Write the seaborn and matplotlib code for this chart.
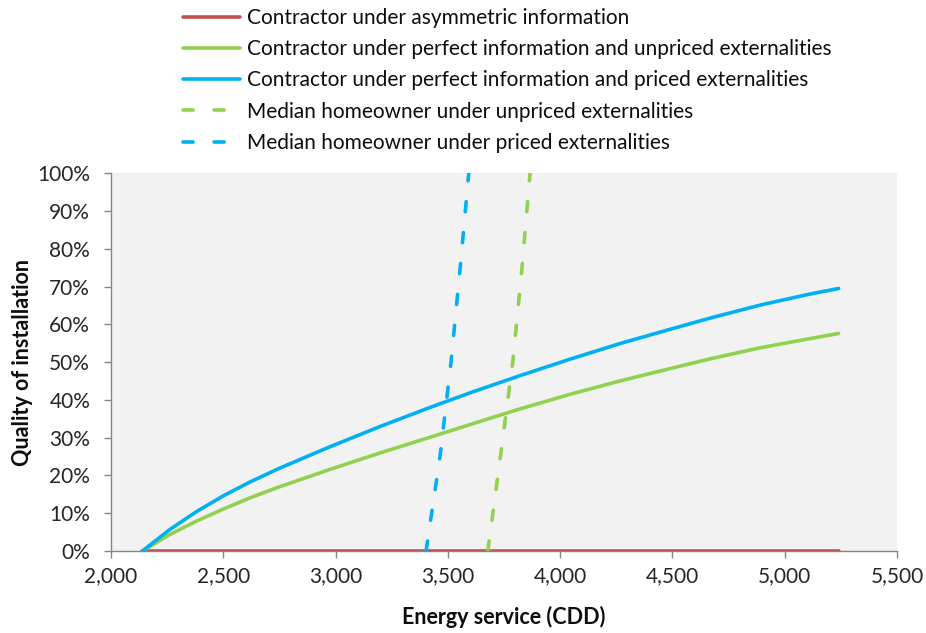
import matplotlib
matplotlib.use("Agg")
import matplotlib.pyplot as plt
import seaborn as sns
from matplotlib.ticker import PercentFormatter, FuncFormatter, MultipleLocator

# ---- data ----
contractor_x = [2140, 2260, 2380, 2500, 2620, 2750, 2975, 3200, 3420,
                3600, 3820, 4045, 4265, 4490, 4670, 4890, 5110, 5240]
asym_q = [0] * len(contractor_x)
perfect_unpriced_q = [0, 4.3, 7.9, 11.1, 14.1, 17.0, 21.6, 26.0, 30.1,
                      33.5, 37.6, 41.5, 45.0, 48.3, 50.9, 53.8, 56.2, 57.6]
perfect_priced_q = [0, 5.6, 10.4, 14.6, 18.3, 21.9, 27.6, 33.0, 38.0,
                    41.9, 46.4, 50.8, 54.9, 58.7, 61.7, 65.1, 68.0, 69.5]

homeowner_q = [0, 25, 50, 75, 100]
homeowner_unpriced_x = [3678, 3734, 3789, 3830, 3866]
homeowner_priced_x = [3403, 3465, 3514, 3555, 3593]

labels = [
    "Contractor under asymmetric information",
    "Contractor under perfect information and unpriced externalities",
    "Contractor under perfect information and priced externalities",
    "Median homeowner under unpriced externalities",
    "Median homeowner under priced externalities",
]
RED, GREEN, BLUE = "#C0504D", "#92D050", "#00B0F0"

sns.set_theme(style="white")
plt.rcParams["font.family"] = ["Lato", "DejaVu Sans"]

fig = plt.figure(figsize=(9.26, 6.33), dpi=100)
ax = fig.add_axes([111 / 926, 1 - 551 / 633, (897 - 111) / 926, (551 - 173.3) / 633])
ax.set_facecolor("#F2F2F2")

lw = 2.6
solid_kw = dict(linewidth=lw, solid_capstyle="round", estimator=None, sort=False, ax=ax)
dash_kw = dict(linewidth=lw, estimator=None, sort=False, ax=ax)

sns.lineplot(x=contractor_x, y=asym_q, color=RED, label=labels[0], **solid_kw)
sns.lineplot(x=contractor_x, y=perfect_unpriced_q, color=GREEN, label=labels[1], **solid_kw)
sns.lineplot(x=contractor_x, y=perfect_priced_q, color=BLUE, label=labels[2], **solid_kw)
sns.lineplot(x=homeowner_unpriced_x, y=homeowner_q, color=GREEN, label=labels[3], **dash_kw)
sns.lineplot(x=homeowner_priced_x, y=homeowner_q, color=BLUE, label=labels[4], **dash_kw)

for line in ax.get_lines()[3:5]:
    line.set_dashes((2.8, 5.8))
    line.set_dash_capstyle("round")

ax.set_xlim(2000, 5500)
ax.set_ylim(0, 100)
ax.xaxis.set_major_locator(MultipleLocator(500))
ax.yaxis.set_major_locator(MultipleLocator(10))
ax.yaxis.set_major_formatter(PercentFormatter(100, decimals=0))
ax.xaxis.set_major_formatter(FuncFormatter(lambda v, p: f"{int(v):,}"))

for s in ["top", "right"]:
    ax.spines[s].set_visible(False)
for s in ["left", "bottom"]:
    ax.spines[s].set_color("#868686")
    ax.spines[s].set_linewidth(1.0)
ax.tick_params(axis="both", direction="out", length=5, width=1, color="#868686",
               labelsize=15, labelcolor="#262626", left=True, bottom=True)
ax.tick_params(axis="x", pad=6)
ax.tick_params(axis="y", pad=10)

ax.set_xlabel("Energy service (CDD)", fontsize=15.5, fontweight="bold", color="#0D0D0D", labelpad=14)
ax.set_ylabel("Quality of installation", fontsize=15.5, fontweight="bold", color="#0D0D0D", labelpad=3)

handles, lbls = ax.get_legend_handles_labels()
ax.get_legend().remove()
leg = fig.legend(handles, lbls, loc="upper left", bbox_to_anchor=(183 / 926, 1 - 8 / 633),
                 frameon=False, fontsize=15, handlelength=2.75, handletextpad=0.3,
                 labelspacing=0.54, borderaxespad=0, borderpad=0)
for t in leg.get_texts():
    t.set_color("#0D0D0D")

fig.savefig("out.png", dpi=100)
